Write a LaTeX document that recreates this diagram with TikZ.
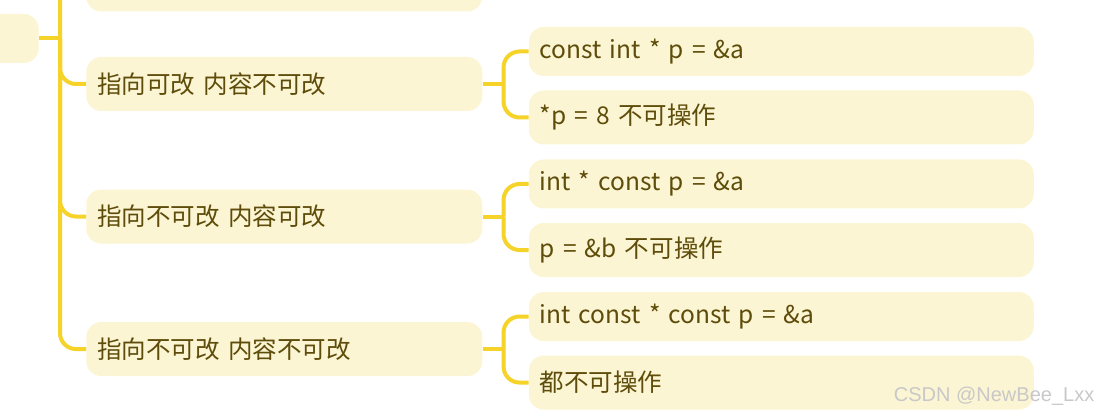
\documentclass[tikz,border=0pt]{standalone}
\usepackage{fontspec}
\setmainfont{Noto Sans CJK SC}
\newfontfamily\markfont{Liberation Sans}
\usepackage{tikz}
\usetikzlibrary{%
	calc,%
	positioning,%
}
\definecolor{cyellow}{RGB}{245, 211, 41}
\definecolor{cyellowlight}{RGB}{252, 245, 211}
\definecolor{ctext}{RGB}{94, 76, 10}
\definecolor{cmark}{RGB}{200, 200, 200}
\tikzset{
	nodes={font={\fontsize{18.4pt}{22pt}\selectfont}, text=ctext},%
	topic/.style={%
			fill=cyellowlight,%
			rectangle,%
			rounded corners=11.25pt,%
			inner xsep=8.25pt,%
			inner ysep=0pt,%
			align=left},%
	branchnode/.style={%
			topic,%
			text width=280.5pt,%
			minimum height=40.5pt},%
	leafnode/.style={%
			topic,%
			text width=362.25pt,%
			minimum height=36.75pt},%
	tallleafnode/.style={%
			leafnode,%
			minimum height=40.5pt},%
	link/.style={%
			draw=cyellow,%
			line width=3pt,%
			rounded corners=12pt},%
}

\begin{document}
\begin{tikzpicture}[x=0.75pt, y=-0.75pt]%
	\clip (0,0) rectangle (1102,416);

	\node[topic, minimum width=75pt, minimum height=36.75pt, anchor=east] (root) at (39,38.5) {};

	\node[branchnode, anchor=west] (ptc) at (86,84) {指向可改 内容不可改};

	\node[branchnode] (top) [above=33.75pt of ptc] {};

	\node[branchnode] (cp) [below=58.5pt of ptc] {指向不可改 内容可改};

	\node[branchnode] (cpc) [below=58.5pt of cp] {指向不可改 内容不可改};

	\node[leafnode, above right=24.4pt and 34.5pt of ptc.east, anchor=west] (ptcdecl) {const int * p = \&a};

	\node[tallleafnode] (ptcop) [below=10.5pt of ptcdecl] {*p = 8 不可操作};

	\node[leafnode, above right=24.4pt and 34.5pt of cp.east, anchor=west] (cpdecl) {int * const p = \&a};

	\node[tallleafnode] (cpop) [below=10.5pt of cpdecl] {p = \&b 不可操作};

	\node[leafnode, above right=24.4pt and 34.5pt of cpc.east, anchor=west] (cpcdecl) {int const * const p = \&a};

	\node[tallleafnode] (cpcop) [below=10.5pt of cpcdecl] {都不可操作};

	\node[font={\markfont\fontsize{15pt}{18pt}\selectfont}, text=cmark, anchor=east] (mark) at (1099,396) {CSDN @NewBee\_Lxx};

	\coordinate (spine) at ([xshift=15.75pt]root.east);
	\coordinate (ptcfork) at ([xshift=15.75pt]ptc.east);
	\coordinate (cpfork) at ([xshift=15.75pt]cp.east);
	\coordinate (cpcfork) at ([xshift=15.75pt]cpc.east);

	\draw[link] (root.east) to (spine);
	\draw[link] (spine) |- (top.west);
	\draw[link] (spine) |- (ptc.west);
	\draw[link] (spine) |- (cp.west);
	\draw[link] (spine) |- (cpc.west);
	\draw[link] (ptc.east) to (ptcfork);
	\draw[link] (ptcfork) |- (ptcdecl.west);
	\draw[link] (ptcfork) |- (ptcop.west);
	\draw[link] (cp.east) to (cpfork);
	\draw[link] (cpfork) |- (cpdecl.west);
	\draw[link] (cpfork) |- (cpop.west);
	\draw[link] (cpc.east) to (cpcfork);
	\draw[link] (cpcfork) |- (cpcdecl.west);
	\draw[link] (cpcfork) |- (cpcop.west);
\end{tikzpicture}
\end{document}
